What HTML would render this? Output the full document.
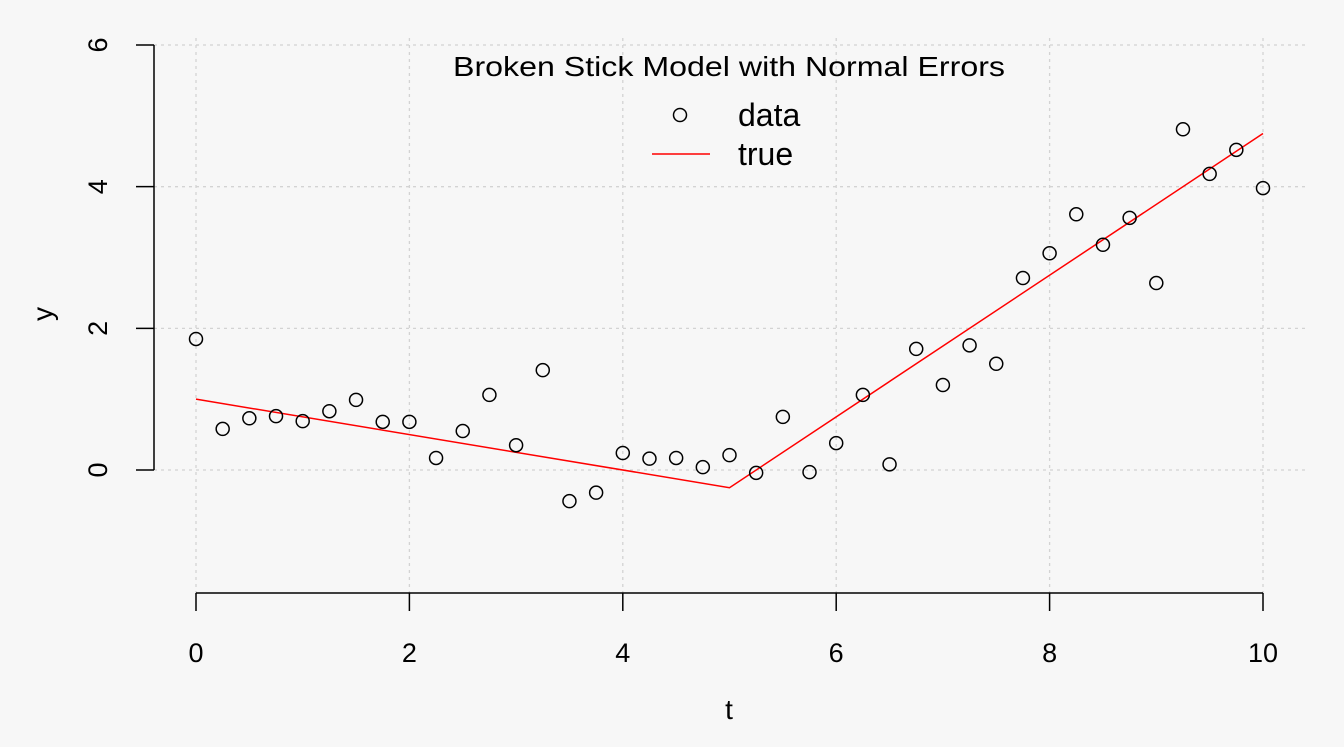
<!DOCTYPE html>
<html><head><meta charset="utf-8"><style>
html,body{margin:0;padding:0;background:#f7f7f7;}
svg{display:block;font-family:"Liberation Sans",sans-serif;}
</style></head><body>
<svg id="chart" width="1344" height="747" viewBox="0 0 1344 747">
<rect width="1344" height="747" fill="#f7f7f7"/>
<g id="grid"></g>
<g id="axes"></g>
<g id="marks"></g>
<text x="729" y="76" font-size="28" text-anchor="middle" textLength="552" lengthAdjust="spacingAndGlyphs">Broken Stick Model with Normal Errors</text>
<g>
<circle cx="680" cy="115" r="6.5" fill="none" stroke="#000" stroke-width="1.5"/>
<text x="738" y="126" font-size="32">data</text>
<line x1="652" y1="154" x2="710" y2="154" stroke="red" stroke-width="1.5"/>
<text x="738" y="165" font-size="32">true</text>
</g>
<text x="729" y="719" font-size="28" text-anchor="middle">t</text>
<text transform="translate(52,314) rotate(-90)" font-size="28" text-anchor="middle">y</text>
</svg>
<script>
const tValues=[0,0.25,0.5,0.75,1,1.25,1.5,1.75,2,2.25,2.5,2.75,3,3.25,3.5,3.75,4,4.25,4.5,4.75,5,5.25,5.5,5.75,6,6.25,6.5,6.75,7,7.25,7.5,7.75,8,8.25,8.5,8.75,9,9.25,9.5,9.75,10];
const yValues=[1.85,0.58,0.73,0.76,0.69,0.83,0.99,0.68,0.68,0.17,0.55,1.06,0.35,1.41,-0.44,-0.32,0.24,0.16,0.17,0.04,0.21,-0.04,0.75,-0.03,0.38,1.06,0.08,1.71,1.2,1.76,1.5,2.71,3.06,3.61,3.18,3.56,2.64,4.81,4.18,4.52,3.98];
const trueT=[0,5,10];
const trueY=[1,-0.25,4.75];
const xTicks=[0,2,4,6,8,10];
const yTicks=[0,2,4,6];
const NS="http://www.w3.org/2000/svg";
function sx(t){return 196+t*106.7;}
function sy(v){return 470-v*70.83;}
function mk(tag,attrs,parent){const e=document.createElementNS(NS,tag);for(const k in attrs)e.setAttribute(k,attrs[k]);parent.appendChild(e);return e;}
const grid=document.getElementById('grid'),axes=document.getElementById('axes'),marks=document.getElementById('marks');
xTicks.forEach(t=>{
 const g=mk('line',{x1:sx(t),x2:sx(t),y1:38,y2:593,stroke:'#d3d3d3','stroke-dasharray':'3,4','stroke-width':1.3},grid);
 
 
 const tk=mk('line',{x1:sx(t),x2:sx(t),y1:593,y2:611,stroke:'#000','stroke-width':1.5},axes);
 
 
 const lb=mk('text',{x:sx(t),y:662,'font-size':27,'text-anchor':'middle'},axes);
 lb.textContent=t;
 
 
});
yTicks.forEach(v=>{
 const g=mk('line',{x1:154,x2:1306,y1:sy(v),y2:sy(v),stroke:'#d3d3d3','stroke-dasharray':'3,4','stroke-width':1.3},grid);
 
 
 const tk=mk('line',{x1:136,x2:154,y1:sy(v),y2:sy(v),stroke:'#000','stroke-width':1.5},axes);
 
 
 const lb=mk('text',{transform:`translate(107,${sy(v)}) rotate(-90)`,'font-size':27,'text-anchor':'middle'},axes);
 lb.textContent=v;
 
 
});
const xa=mk('line',{x1:sx(0),x2:sx(10),y1:593,y2:593,stroke:'#000','stroke-width':1.5},axes);


const ya=mk('line',{x1:154,x2:154,y1:sy(0),y2:sy(6),stroke:'#000','stroke-width':1.5},axes);


const pl=mk('polyline',{points:trueT.map((t,i)=>sx(t)+','+sy(trueY[i])).join(' '),fill:'none',stroke:'red','stroke-width':1.5},marks);


tValues.forEach((t,i)=>{
 const c=mk('circle',{cx:sx(t),cy:sy(yValues[i]),r:6.5,fill:'none',stroke:'#000','stroke-width':1.5},marks);
 
 
});
</script>
</body></html>
